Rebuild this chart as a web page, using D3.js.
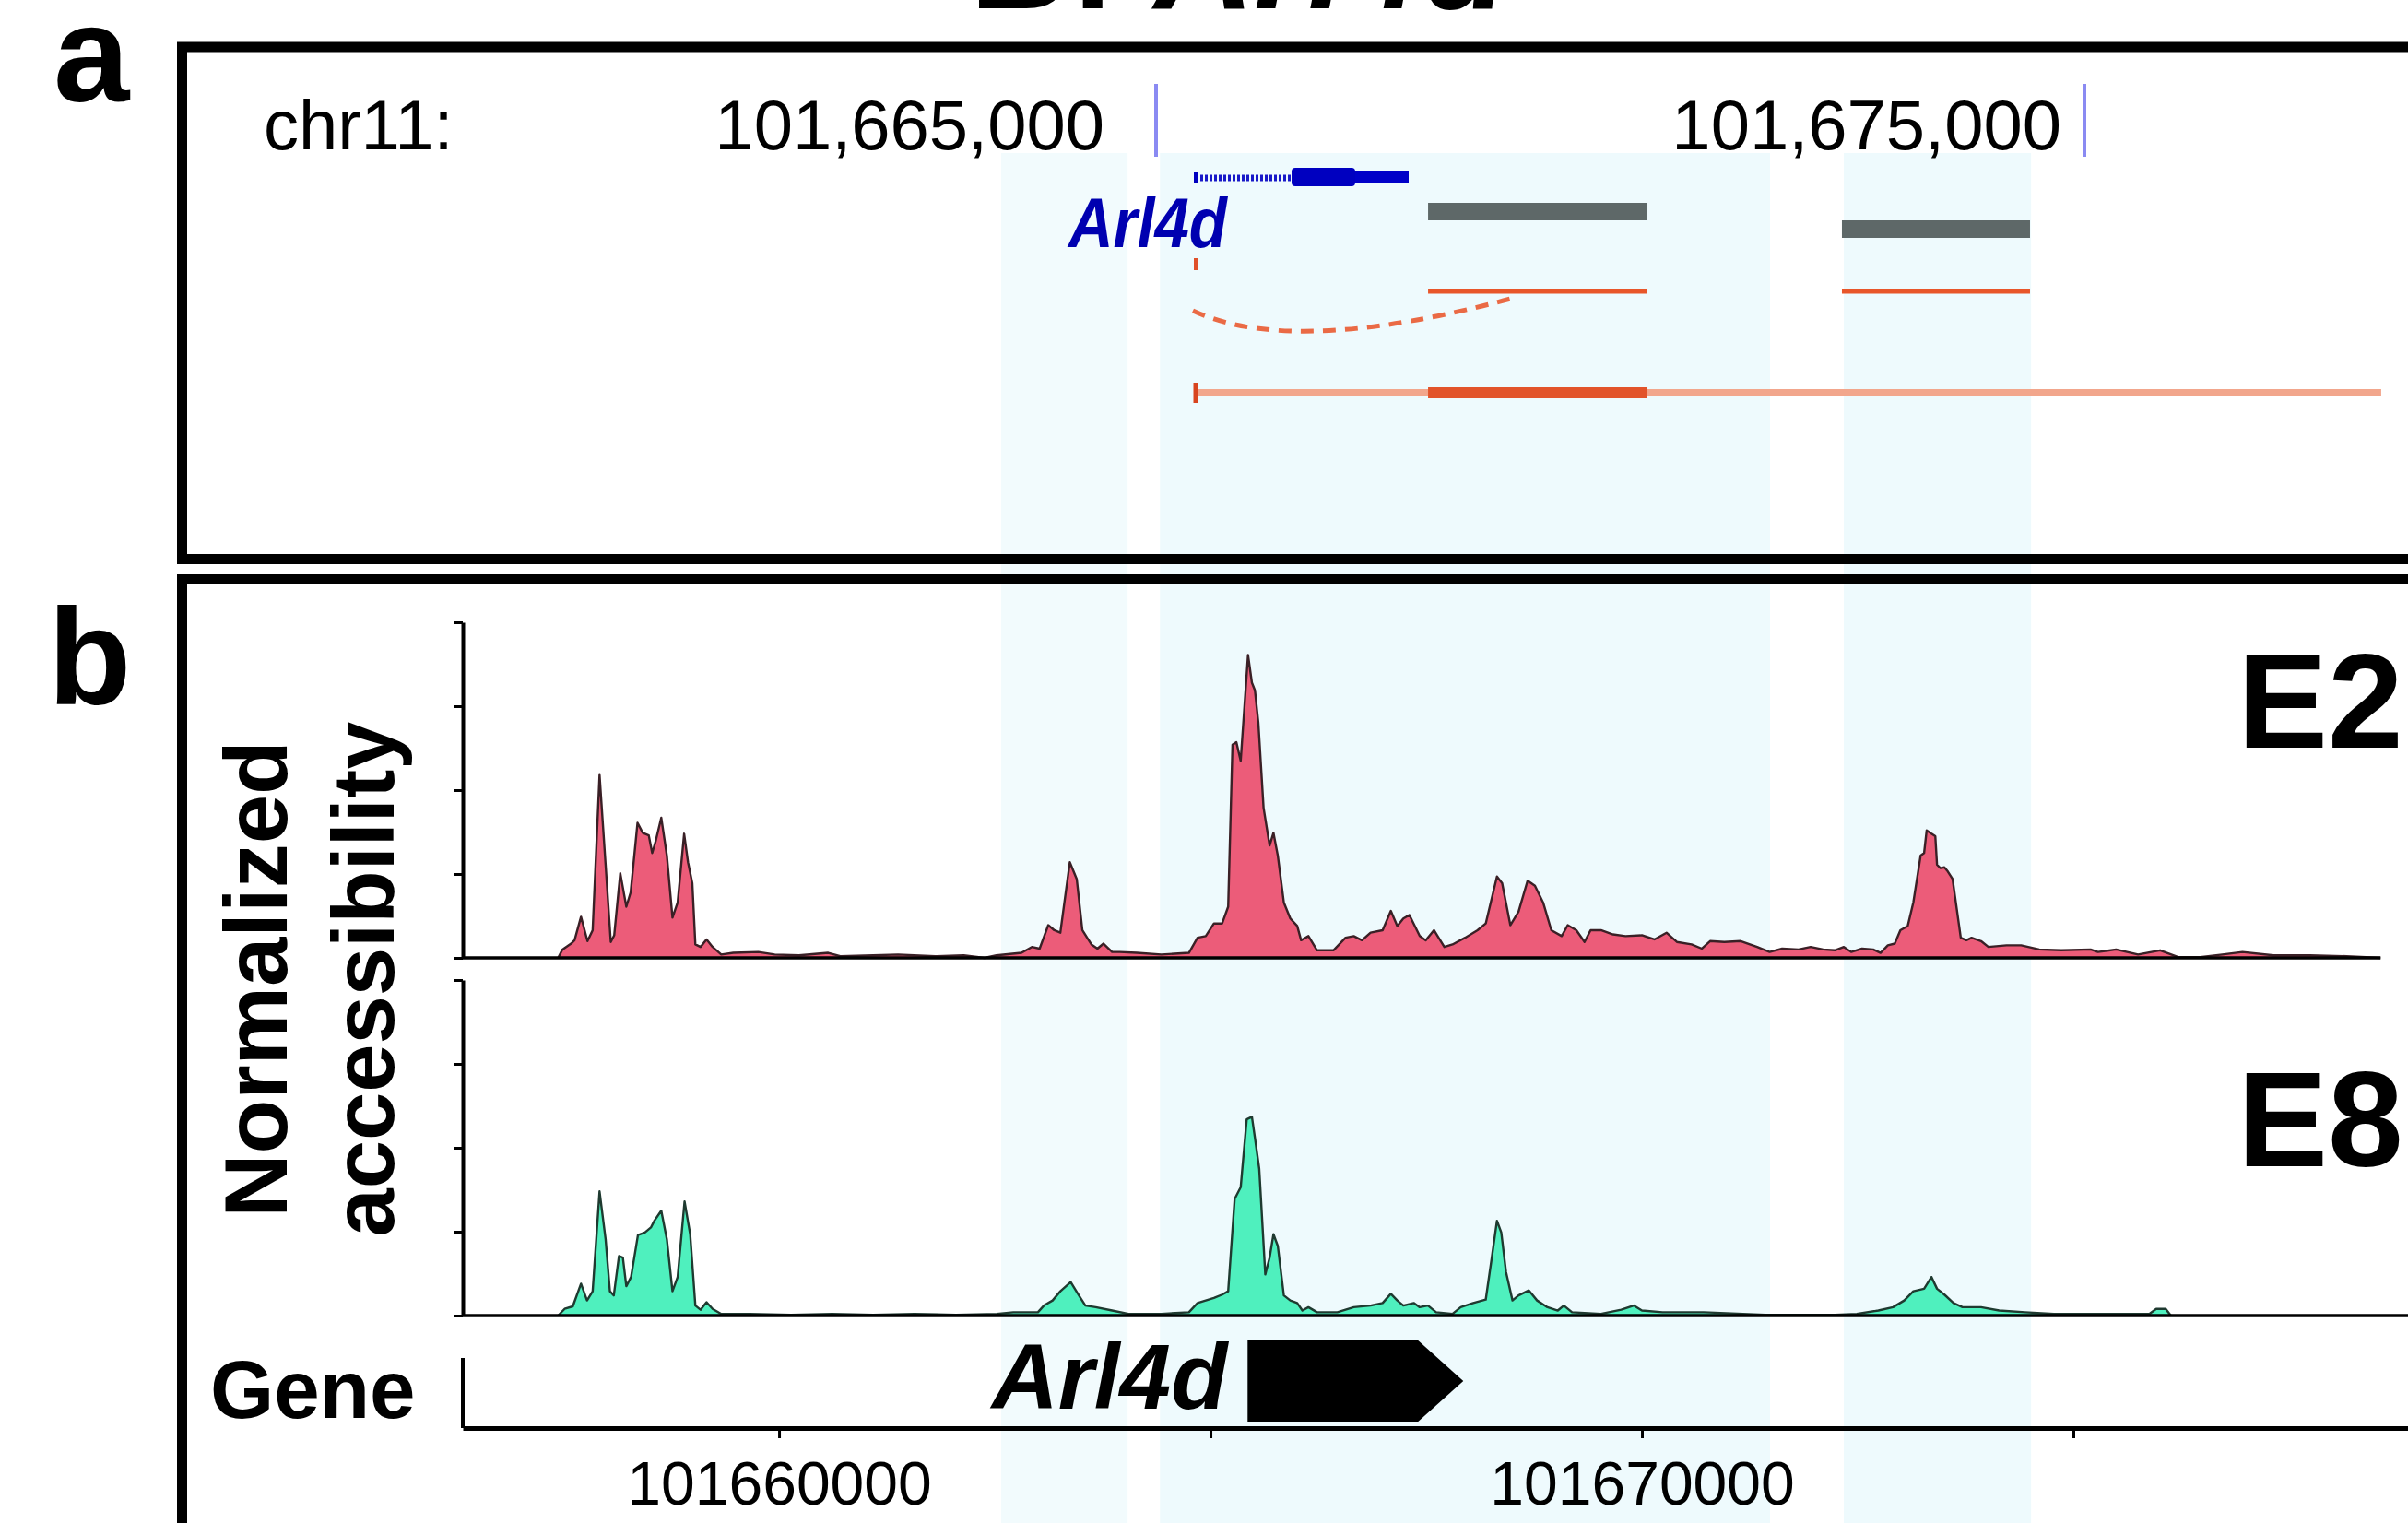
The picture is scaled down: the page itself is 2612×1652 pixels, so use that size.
<!DOCTYPE html>
<html lang="en">
<head>
<meta charset="UTF-8">
<title>Arl4d accessibility</title>
<script src="https://d3js.org/d3.v7.min.js"></script>
<style>
  body { margin: 0; background: #fff; }
  svg { display: block; font-family: "Liberation Sans", Arial, sans-serif; }
</style>
</head>
<body>
<svg id="chart" width="2612" height="1652"></svg>
<script>
// all positions are chr11 coordinates (bp)
const viewRange = [101656335, 101678878];
const rulerTicks = [101665000, 101675000];
const axisTicks = [101660000, 101665000, 101670000, 101675000];
const axisLabels = [101660000, 101670000];
const yTicks = [0, 1, 2, 3, 4];
const highlightRegions = [[101662575, 101664040], [101664415, 101671485], [101672340, 101674510]];

// browser tracks (panel a)
const arl4dTranscript = [101665427, 101667721];
const arl4dCds = [101666460, 101667145];
const grayPeaks = [[101667930, 101670293], [101672388, 101674414]];
const orangeExons = [[101667930, 101670293], [101672388, 101674414]];
const orangeJunction = [101665397, 101668893];
const longTranscript = [101665427, 101678197];
const longThick = [101667930, 101670293];

// gene model (panel b)
const geneArrow = [101665430, 101667930];

// normalized accessibility, [position, value]
const e2Signal = [
  [101657440, 0], [101657490, 0.10], [101657590, 0.17], [101657630, 0.21], [101657705, 0.49],
  [101657780, 0.20], [101657840, 0.33], [101657920, 2.18], [101657990, 1.11], [101658050, 0.19],
  [101658090, 0.27], [101658160, 1.01], [101658230, 0.61], [101658280, 0.78], [101658360, 1.61],
  [101658420, 1.49], [101658490, 1.46], [101658530, 1.25], [101658570, 1.39], [101658635, 1.67],
  [101658700, 1.22], [101658765, 0.48], [101658825, 0.66], [101658900, 1.48], [101658945, 1.14],
  [101658995, 0.89], [101659030, 0.16], [101659090, 0.13], [101659160, 0.22], [101659230, 0.13],
  [101659330, 0.04], [101659470, 0.06], [101659760, 0.07], [101659950, 0.04], [101660230, 0.03],
  [101660570, 0.06], [101660710, 0.02], [101661090, 0.03], [101661380, 0.04], [101661810, 0.02],
  [101662140, 0.03], [101662380, 0.00], [101662520, 0.03], [101662810, 0.06], [101662930, 0.13],
  [101663020, 0.11], [101663120, 0.39], [101663190, 0.33], [101663260, 0.30], [101663370, 1.14],
  [101663450, 0.94], [101663515, 0.33], [101663620, 0.16], [101663690, 0.11], [101663760, 0.17],
  [101663860, 0.07], [101663950, 0.07], [101664145, 0.06], [101664430, 0.04], [101664750, 0.06],
  [101664850, 0.24], [101664945, 0.26], [101665040, 0.41], [101665135, 0.41], [101665205, 0.61],
  [101665255, 2.54], [101665300, 2.57], [101665350, 2.35], [101665435, 3.61], [101665480, 3.28],
  [101665515, 3.19], [101665555, 2.80], [101665615, 1.79], [101665685, 1.34], [101665730, 1.49],
  [101665780, 1.22], [101665850, 0.66], [101665925, 0.47], [101666005, 0.38], [101666050, 0.21],
  [101666135, 0.26], [101666235, 0.09], [101666425, 0.09], [101666565, 0.24], [101666660, 0.26],
  [101666755, 0.21], [101666855, 0.30], [101666995, 0.33], [101667090, 0.56], [101667165, 0.38],
  [101667235, 0.47], [101667305, 0.51], [101667425, 0.26], [101667495, 0.21], [101667590, 0.33],
  [101667710, 0.13], [101667805, 0.16], [101667950, 0.24], [101668095, 0.33], [101668190, 0.41],
  [101668320, 0.97], [101668380, 0.89], [101668475, 0.39], [101668570, 0.55], [101668675, 0.92],
  [101668760, 0.86], [101668855, 0.66], [101668950, 0.33], [101669070, 0.26], [101669140, 0.39],
  [101669240, 0.33], [101669335, 0.19], [101669405, 0.33], [101669525, 0.33], [101669665, 0.28],
  [101669810, 0.26], [101670000, 0.27], [101670145, 0.22], [101670285, 0.30], [101670405, 0.19],
  [101670575, 0.16], [101670695, 0.11], [101670790, 0.20], [101670955, 0.19], [101671145, 0.20],
  [101671335, 0.13], [101671480, 0.07], [101671625, 0.11], [101671815, 0.10], [101671955, 0.13],
  [101672100, 0.10], [101672235, 0.09], [101672340, 0.13], [101672425, 0.07], [101672550, 0.11],
  [101672680, 0.10], [101672765, 0.06], [101672850, 0.15], [101672930, 0.17], [101672995, 0.33],
  [101673080, 0.38], [101673145, 0.66], [101673230, 1.22], [101673270, 1.25], [101673300, 1.52],
  [101673355, 1.48], [101673400, 1.45], [101673420, 1.11], [101673460, 1.07], [101673505, 1.08],
  [101673545, 1.03], [101673600, 0.94], [101673695, 0.24], [101673760, 0.21], [101673820, 0.24],
  [101673930, 0.20], [101674015, 0.13], [101674225, 0.15], [101674395, 0.15], [101674605, 0.10],
  [101674860, 0.09], [101675200, 0.10], [101675285, 0.07], [101675495, 0.10], [101675750, 0.04],
  [101676005, 0.09], [101676215, 0.01], [101676470, 0.01], [101676725, 0.04], [101676960, 0.07],
  [101677320, 0.03], [101677740, 0.03], [101678165, 0.02], [101678560, 0.00]
];

const e8Signal = [
  [101657440, 0], [101657515, 0.08], [101657610, 0.11], [101657705, 0.38], [101657775, 0.18],
  [101657840, 0.29], [101657920, 1.48], [101657990, 0.91], [101658040, 0.29], [101658085, 0.24],
  [101658145, 0.71], [101658190, 0.69], [101658230, 0.35], [101658285, 0.46], [101658365, 0.96],
  [101658445, 0.99], [101658515, 1.05], [101658555, 1.13], [101658635, 1.25], [101658700, 0.91],
  [101658765, 0.29], [101658825, 0.46], [101658905, 1.36], [101658970, 0.97], [101659030, 0.12],
  [101659090, 0.07], [101659160, 0.16], [101659230, 0.08], [101659330, 0.02], [101659660, 0.02],
  [101660140, 0.01], [101660615, 0.02], [101661090, 0.01], [101661570, 0.02], [101662050, 0.01],
  [101662525, 0.02], [101662715, 0.04], [101663000, 0.04], [101663070, 0.12], [101663170, 0.18],
  [101663260, 0.29], [101663380, 0.40], [101663475, 0.24], [101663550, 0.12], [101663670, 0.10],
  [101663860, 0.06], [101664050, 0.02], [101664430, 0.02], [101664750, 0.04], [101664850, 0.15],
  [101664945, 0.18], [101665040, 0.21], [101665135, 0.25], [101665205, 0.29], [101665280, 1.39],
  [101665350, 1.53], [101665420, 2.34], [101665480, 2.37], [101665515, 2.12], [101665565, 1.75],
  [101665635, 0.49], [101665685, 0.69], [101665730, 0.97], [101665780, 0.83], [101665850, 0.24],
  [101665925, 0.18], [101666005, 0.15], [101666065, 0.06], [101666135, 0.10], [101666235, 0.04],
  [101666470, 0.04], [101666660, 0.10], [101666855, 0.12], [101666995, 0.15], [101667090, 0.26],
  [101667165, 0.18], [101667235, 0.12], [101667355, 0.15], [101667425, 0.10], [101667520, 0.12],
  [101667615, 0.04], [101667805, 0.02], [101667900, 0.10], [101668045, 0.15], [101668190, 0.19],
  [101668260, 0.69], [101668320, 1.13], [101668370, 0.99], [101668425, 0.52], [101668500, 0.18],
  [101668570, 0.24], [101668690, 0.30], [101668785, 0.18], [101668905, 0.10], [101669025, 0.06],
  [101669095, 0.12], [101669190, 0.04], [101669525, 0.02], [101669760, 0.07], [101669905, 0.12],
  [101670000, 0.06], [101670240, 0.04], [101670715, 0.04], [101671430, 0.01], [101672235, 0.01],
  [101672490, 0.02], [101672740, 0.06], [101672910, 0.10], [101673040, 0.18], [101673145, 0.29],
  [101673270, 0.32], [101673355, 0.46], [101673420, 0.32], [101673505, 0.25], [101673610, 0.15],
  [101673715, 0.10], [101673930, 0.10], [101674140, 0.06], [101674440, 0.04], [101674775, 0.02],
  [101675880, 0.02], [101675960, 0.08], [101676070, 0.08], [101676130, 0.00]
];

const svg = d3.select("#chart");

// scales
const xA = d3.scaleLinear().domain(rulerTicks).range([1254, 2261]);
const xB = d3.scaleLinear().domain(viewRange).range([502, 2612]);
const yE2 = d3.scaleLinear().domain([0, 4]).range([1039, 675]);
const yE8 = d3.scaleLinear().domain([0, 4]).range([1427, 1063]);

// highlighted columns behind both panels
svg.append("g").selectAll("rect")
  .data(highlightRegions)
  .join("rect")
  .attr("x", d => xB(d[0]))
  .attr("width", d => xB(d[1]) - xB(d[0]))
  .attr("y", 166)
  .attr("height", 1652 - 166)
  .attr("fill", (d, i) => i === 0 ? "#F2FBFD" : "#EEFAFD");

// title (cut off at top)
const title = svg.append("text")
  .attr("x", 1052).attr("y", 9)
  .attr("font-size", 150).attr("font-weight", "bold");
title.append("tspan").text("B: ");
title.append("tspan").attr("font-style", "italic").text("Arl4d");

// panel letters
svg.append("text").attr("x", 58).attr("y", 110)
  .attr("font-size", 148).attr("font-weight", "bold").text("a");
svg.append("text").attr("x", 52).attr("y", 764)
  .attr("font-size", 148).attr("font-weight", "bold").text("b");

// panel frames
svg.append("rect").attr("x", 197.5).attr("y", 51).attr("width", 2600).attr("height", 555.5)
  .attr("fill", "none").attr("stroke", "#000").attr("stroke-width", 11);
svg.append("rect").attr("x", 197.5).attr("y", 628.5).attr("width", 2600).attr("height", 1200)
  .attr("fill", "none").attr("stroke", "#000").attr("stroke-width", 11);

// ---- panel a: browser view ----
const pa = svg.append("g");

pa.append("text").attr("x", 286).attr("y", 162).attr("font-size", 76).text("chr11:");

const rulerGap = [56, 25];
pa.selectAll(".ruler-label")
  .data(rulerTicks)
  .join("text")
  .attr("class", "ruler-label")
  .attr("x", (d, i) => xA(d) - rulerGap[i])
  .attr("y", 162)
  .attr("text-anchor", "end")
  .attr("font-size", 76)
  .text(d => d3.format(",")(d));

pa.selectAll(".ruler-tick")
  .data(rulerTicks)
  .join("line")
  .attr("class", "ruler-tick")
  .attr("x1", d => xA(d)).attr("x2", d => xA(d))
  .attr("y1", 91).attr("y2", 170)
  .attr("stroke", "#8A8AF2").attr("stroke-width", 4);

// Arl4d RefSeq model
pa.append("line")
  .attr("x1", xA(arl4dTranscript[0])).attr("x2", xA(arl4dCds[0]))
  .attr("y1", 193).attr("y2", 193)
  .attr("stroke", "#1818C8").attr("stroke-width", 7).attr("stroke-dasharray", "3,2");
pa.append("rect")
  .attr("x", xA(arl4dTranscript[0]) - 2).attr("width", 5)
  .attr("y", 187).attr("height", 12).attr("fill", "#0000C0");
pa.append("rect")
  .attr("x", xA(arl4dCds[0])).attr("width", xA(arl4dCds[1]) - xA(arl4dCds[0]))
  .attr("y", 182).attr("height", 20).attr("rx", 4).attr("fill", "#0000C0");
pa.append("rect")
  .attr("x", xA(arl4dCds[1])).attr("width", xA(arl4dTranscript[1]) - xA(arl4dCds[1]))
  .attr("y", 186).attr("height", 13).attr("fill", "#0000C8");
pa.append("text")
  .attr("x", xA(arl4dTranscript[0]) + 34).attr("y", 268)
  .attr("text-anchor", "end")
  .attr("font-size", 76).attr("font-weight", "bold").attr("font-style", "italic")
  .attr("fill", "#0000B0")
  .attr("textLength", 172).attr("lengthAdjust", "spacingAndGlyphs")
  .text("Arl4d");

// gray peak calls
pa.selectAll(".gray-peak")
  .data(grayPeaks)
  .join("rect")
  .attr("class", "gray-peak")
  .attr("x", d => xA(d[0]))
  .attr("width", d => xA(d[1]) - xA(d[0]))
  .attr("y", (d, i) => 220 + i * 19)
  .attr("height", 19)
  .attr("fill", "#5E6868");

// orange spliced track
pa.append("line")
  .attr("x1", xA(arl4dTranscript[0])).attr("x2", xA(arl4dTranscript[0]))
  .attr("y1", 280).attr("y2", 293)
  .attr("stroke", "#E0502A").attr("stroke-width", 4);
pa.selectAll(".orange-exon")
  .data(orangeExons)
  .join("line")
  .attr("class", "orange-exon")
  .attr("x1", d => xA(d[0])).attr("x2", d => xA(d[1]))
  .attr("y1", 316).attr("y2", 316)
  .attr("stroke", "#E8562A").attr("stroke-width", 5);
const j0 = xA(orangeJunction[0]), j1 = xA(orangeJunction[1]);
const arc = d3.path();
arc.moveTo(j0, 337);
arc.quadraticCurveTo(j0 + (j1 - j0) * 0.31, 388, j1, 322);
pa.append("path")
  .attr("d", arc.toString())
  .attr("fill", "none")
  .attr("stroke", "#EA6A45").attr("stroke-width", 5)
  .attr("stroke-dasharray", "14,10");

// long transcript
pa.append("line")
  .attr("x1", xA(longTranscript[0])).attr("x2", xA(longTranscript[1]))
  .attr("y1", 426).attr("y2", 426)
  .attr("stroke", "#F2A68C").attr("stroke-width", 8);
pa.append("rect")
  .attr("x", xA(longThick[0])).attr("width", xA(longThick[1]) - xA(longThick[0]))
  .attr("y", 420).attr("height", 12).attr("fill", "#E2532A");
pa.append("line")
  .attr("x1", xA(longTranscript[0])).attr("x2", xA(longTranscript[0]))
  .attr("y1", 415).attr("y2", 437)
  .attr("stroke", "#D8441F").attr("stroke-width", 5);

// ---- panel b: accessibility tracks ----
const pb = svg.append("g");

pb.append("text")
  .attr("transform", "translate(311,1062) rotate(-90)")
  .attr("text-anchor", "middle")
  .attr("font-size", 96).attr("font-weight", "bold")
  .text("Normalized");
pb.append("text")
  .attr("transform", "translate(427,1062) rotate(-90)")
  .attr("text-anchor", "middle")
  .attr("font-size", 94).attr("font-weight", "bold")
  .text("accessibility");

const trackDefs = [
  { name: "E2", data: e2Signal, y: yE2, fill: "#EC5C79", stroke: "#3A2026", end: e2Signal[e2Signal.length - 1][0], labelY: 811 },
  { name: "E8", data: e8Signal, y: yE8, fill: "#4FF0BE", stroke: "#1F3A30", end: viewRange[1], labelY: 1265 }
];

trackDefs.forEach(t => {
  const g = pb.append("g");
  const area = d3.area()
    .x(d => xB(d[0]))
    .y0(t.y(0))
    .y1(d => t.y(d[1]));
  const line = d3.line()
    .x(d => xB(d[0]))
    .y(d => t.y(d[1]));

  g.append("path").datum(t.data).attr("d", area).attr("fill", t.fill);
  g.append("path").datum(t.data).attr("d", line)
    .attr("fill", "none").attr("stroke", t.stroke).attr("stroke-width", 2.4)
    .attr("stroke-linejoin", "round");

  // baseline
  g.append("line")
    .attr("x1", xB(viewRange[0])).attr("x2", xB(t.end))
    .attr("y1", t.y(0)).attr("y2", t.y(0))
    .attr("stroke", "#000").attr("stroke-width", 3.5);

  // y axis
  const ax = g.append("g")
    .attr("transform", `translate(${xB(viewRange[0])},0)`)
    .call(d3.axisLeft(t.y).tickValues(yTicks).tickSize(10).tickSizeOuter(0).tickFormat(""));
  ax.select(".domain").attr("stroke", "#000").attr("stroke-width", 4);
  ax.selectAll(".tick line").attr("stroke", "#000").attr("stroke-width", 3);

  g.append("text")
    .attr("x", 2427).attr("y", t.labelY)
    .attr("font-size", 147).attr("font-weight", "bold")
    .text(t.name);
});

// gene track
pb.append("text").attr("x", 228).attr("y", 1538)
  .attr("font-size", 89).attr("font-weight", "bold").text("Gene");

pb.append("line")
  .attr("x1", xB(viewRange[0])).attr("x2", xB(viewRange[0]))
  .attr("y1", 1473).attr("y2", 1549)
  .attr("stroke", "#000").attr("stroke-width", 4);

const head = 49;
const gx0 = xB(geneArrow[0]), gx1 = xB(geneArrow[1]);
pb.append("path")
  .attr("d", `M${gx0},1454 L${gx1 - head},1454 L${gx1},1498 L${gx1 - head},1542 L${gx0},1542 Z`)
  .attr("fill", "#000");
pb.append("text")
  .attr("x", gx0 - 22).attr("y", 1528)
  .attr("text-anchor", "end")
  .attr("font-size", 100).attr("font-weight", "bold").attr("font-style", "italic")
  .text("Arl4d");

const xAxis = pb.append("g")
  .attr("transform", "translate(0,1549)")
  .call(d3.axisBottom(xB)
    .tickValues(axisTicks)
    .tickSize(11)
    .tickSizeOuter(0)
    .tickPadding(25)
    .tickFormat(d => axisLabels.includes(d) ? String(d) : ""));
xAxis.select(".domain").attr("stroke", "#000").attr("stroke-width", 5);
xAxis.selectAll(".tick line").attr("stroke", "#000").attr("stroke-width", 3);
xAxis.selectAll(".tick text")
  .attr("font-size", 66)
  .attr("font-family", "Liberation Sans, Arial, sans-serif")
  .attr("fill", "#000");
</script>
</body>
</html>
